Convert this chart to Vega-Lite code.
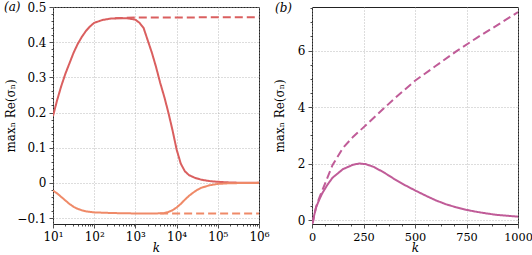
{
  "$schema": "https://vega.github.io/schema/vega-lite/v6.json",
  "autosize": {"type": "pad"},
  "padding": {"left": 3, "top": 0, "right": 0, "bottom": 0},
  "background": "white",
  "bounds": "flush",
  "spacing": 53,
  "resolve": {"scale": {"color": "independent", "strokeDash": "independent"}},
  "config": {
    "view": {"stroke": "#222", "strokeWidth": 1},
    "font": "DejaVu Serif",
    "axis": {
      "domain": false,
      "labelFont": "DejaVu Serif",
      "labelFontSize": 12,
      "labelColor": "#000",
      "titleFont": "DejaVu Serif",
      "titleFontSize": 12,
      "titleFontWeight": "normal",
      "titleColor": "#000",
      "tickColor": "#222",
      "tickWidth": 0.8,
      "gridColor": "#aaaaaa",
      "gridDash": [1, 2],
      "gridWidth": 0.8,
      "labelPadding": 3
    },
    "title": {"font": "DejaVu Serif", "fontSize": 12, "fontStyle": "italic", "fontWeight": "normal", "color": "#000"}
  },
  "hconcat": [
    {
      "width": 206,
      "height": 217,
      "title": {"text": "(a)", "anchor": "start", "frame": "group", "orient": "top", "offset": -15, "baseline": "top", "dx": -49, "dy": -2},
      "data": {"values": [
        {"k": 10, "v": 0.19, "s": "up"},
        {"k": 12.59, "v": 0.235, "s": "up"},
        {"k": 15.85, "v": 0.275, "s": "up"},
        {"k": 19.95, "v": 0.31, "s": "up"},
        {"k": 25.12, "v": 0.34, "s": "up"},
        {"k": 31.62, "v": 0.37, "s": "up"},
        {"k": 39.81, "v": 0.395, "s": "up"},
        {"k": 50.12, "v": 0.415, "s": "up"},
        {"k": 63.1, "v": 0.432, "s": "up"},
        {"k": 79.43, "v": 0.445, "s": "up"},
        {"k": 100, "v": 0.455, "s": "up"},
        {"k": 158.5, "v": 0.463, "s": "up"},
        {"k": 251.2, "v": 0.467, "s": "up"},
        {"k": 398.1, "v": 0.468, "s": "up"},
        {"k": 631, "v": 0.468, "s": "up"},
        {"k": 1000, "v": 0.464, "s": "up"},
        {"k": 1259, "v": 0.455, "s": "up"},
        {"k": 1585, "v": 0.44, "s": "up"},
        {"k": 1995, "v": 0.405, "s": "up"},
        {"k": 2512, "v": 0.37, "s": "up"},
        {"k": 3162, "v": 0.33, "s": "up"},
        {"k": 3981, "v": 0.285, "s": "up"},
        {"k": 5012, "v": 0.245, "s": "up"},
        {"k": 6310, "v": 0.2, "s": "up"},
        {"k": 7943, "v": 0.15, "s": "up"},
        {"k": 10000, "v": 0.095, "s": "up"},
        {"k": 12589, "v": 0.055, "s": "up"},
        {"k": 15849, "v": 0.033, "s": "up"},
        {"k": 19953, "v": 0.022, "s": "up"},
        {"k": 28184, "v": 0.014, "s": "up"},
        {"k": 39811, "v": 0.009, "s": "up"},
        {"k": 63096, "v": 0.005, "s": "up"},
        {"k": 100000, "v": 0.003, "s": "up"},
        {"k": 199526, "v": 0.001, "s": "up"},
        {"k": 398107, "v": 0.0003, "s": "up"},
        {"k": 1000000, "v": 0.0, "s": "up"},
        {"k": 10, "v": -0.022, "s": "low"},
        {"k": 12.59, "v": -0.03, "s": "low"},
        {"k": 15.85, "v": -0.04, "s": "low"},
        {"k": 19.95, "v": -0.05, "s": "low"},
        {"k": 25.12, "v": -0.06, "s": "low"},
        {"k": 31.62, "v": -0.068, "s": "low"},
        {"k": 39.81, "v": -0.074, "s": "low"},
        {"k": 50.12, "v": -0.078, "s": "low"},
        {"k": 63.1, "v": -0.081, "s": "low"},
        {"k": 100, "v": -0.084, "s": "low"},
        {"k": 316.2, "v": -0.086, "s": "low"},
        {"k": 1000, "v": -0.087, "s": "low"},
        {"k": 3162, "v": -0.087, "s": "low"},
        {"k": 5012, "v": -0.086, "s": "low"},
        {"k": 6310, "v": -0.083, "s": "low"},
        {"k": 7943, "v": -0.078, "s": "low"},
        {"k": 10000, "v": -0.07, "s": "low"},
        {"k": 12589, "v": -0.06, "s": "low"},
        {"k": 15849, "v": -0.048, "s": "low"},
        {"k": 19953, "v": -0.037, "s": "low"},
        {"k": 25119, "v": -0.028, "s": "low"},
        {"k": 31623, "v": -0.02, "s": "low"},
        {"k": 39811, "v": -0.014, "s": "low"},
        {"k": 63096, "v": -0.007, "s": "low"},
        {"k": 100000, "v": -0.003, "s": "low"},
        {"k": 199526, "v": -0.001, "s": "low"},
        {"k": 1000000, "v": 0.0, "s": "low"},
        {"k": 316.2, "v": 0.468, "s": "upd"},
        {"k": 1000, "v": 0.47, "s": "upd"},
        {"k": 1000000, "v": 0.471, "s": "upd"},
        {"k": 3981, "v": -0.087, "s": "lowd"},
        {"k": 1000000, "v": -0.087, "s": "lowd"}
      ]},
      "mark": {"type": "line", "strokeWidth": 2, "clip": true},
      "encoding": {
        "x": {
          "field": "k", "type": "quantitative",
          "scale": {"type": "log", "domain": [10, 1000000], "nice": false},
          "axis": {
            "title": "k", "titleFontStyle": "italic", "titlePadding": 0,
            "values": [10,20,30,40,50,60,70,80,90,100,200,300,400,500,600,700,800,900,1000,2000,3000,4000,5000,6000,7000,8000,9000,10000,20000,30000,40000,50000,60000,70000,80000,90000,100000,200000,300000,400000,500000,600000,700000,800000,900000,1000000],
            "labelExpr": "datum.value == 10 ? '10¹' : datum.value == 100 ? '10²' : datum.value == 1000 ? '10³' : datum.value == 10000 ? '10⁴' : datum.value == 100000 ? '10⁵' : datum.value == 1000000 ? '10⁶' : ''",
            "labelOverlap": false,
            "labelBound": false,
            "labelFlush": false,
            "tickSize": {"condition": {"test": "abs(log(datum.value)/LN10 - round(log(datum.value)/LN10)) < 0.000001", "value": 4}, "value": 2},
            "gridOpacity": {"condition": {"test": "abs(log(datum.value)/LN10 - round(log(datum.value)/LN10)) < 0.000001", "value": 1}, "value": 0}
          }
        },
        "y": {
          "field": "v", "type": "quantitative",
          "scale": {"domain": [-0.117, 0.5], "nice": false, "zero": false},
          "axis": {
            "title": "maxₙ Re(σₙ)", "titleX": -43, "titleY": 108.5, "titleAngle": -90, "titleAlign": "center", "titleBaseline": "middle",
            "values": [-0.1,-0.08,-0.06,-0.04,-0.02,0,0.02,0.04,0.06,0.08,0.1,0.12,0.14,0.16,0.18,0.2,0.22,0.24,0.26,0.28,0.3,0.32,0.34,0.36,0.38,0.4,0.42,0.44,0.46,0.48,0.5],
            "labelExpr": "abs(datum.value*10 - round(datum.value*10)) < 0.000001 ? (abs(datum.value) < 0.000001 ? '0' : format(datum.value, '.1f')) : ''",
            "labelOverlap": false,
            "labelFlush": false,
            "tickSize": {"condition": {"test": "abs(datum.value*10 - round(datum.value*10)) < 0.000001", "value": 4}, "value": 2},
            "gridOpacity": {"condition": {"test": "abs(datum.value*10 - round(datum.value*10)) < 0.000001", "value": 1}, "value": 0}
          }
        },
        "color": {"field": "s", "type": "nominal", "legend": null,
          "scale": {"domain": ["up", "low", "upd", "lowd"], "range": ["#da5f5f", "#ef8a68", "#da5f5f", "#ef8a68"]}},
        "strokeDash": {"field": "s", "type": "nominal", "legend": null,
          "scale": {"domain": ["up", "low", "upd", "lowd"], "range": [[1, 0], [1, 0], [8, 4], [8, 4]]}}
      }
    },
    {
      "width": 206,
      "height": 217,
      "title": {"text": "(b)", "anchor": "start", "frame": "group", "orient": "top", "offset": -15, "baseline": "top", "dx": -37, "dy": -2},
      "data": {"values": [
        {"k": 0, "v": -0.14, "s": "sol"},
        {"k": 5, "v": -0.05, "s": "sol"},
        {"k": 10, "v": 0.15, "s": "sol"},
        {"k": 20, "v": 0.45, "s": "sol"},
        {"k": 35, "v": 0.72, "s": "sol"},
        {"k": 50, "v": 0.95, "s": "sol"},
        {"k": 75, "v": 1.25, "s": "sol"},
        {"k": 100, "v": 1.5, "s": "sol"},
        {"k": 150, "v": 1.8, "s": "sol"},
        {"k": 200, "v": 1.96, "s": "sol"},
        {"k": 230, "v": 2.0, "s": "sol"},
        {"k": 260, "v": 1.98, "s": "sol"},
        {"k": 300, "v": 1.88, "s": "sol"},
        {"k": 350, "v": 1.68, "s": "sol"},
        {"k": 400, "v": 1.45, "s": "sol"},
        {"k": 450, "v": 1.24, "s": "sol"},
        {"k": 500, "v": 1.05, "s": "sol"},
        {"k": 550, "v": 0.87, "s": "sol"},
        {"k": 600, "v": 0.7, "s": "sol"},
        {"k": 650, "v": 0.56, "s": "sol"},
        {"k": 700, "v": 0.45, "s": "sol"},
        {"k": 750, "v": 0.36, "s": "sol"},
        {"k": 800, "v": 0.29, "s": "sol"},
        {"k": 850, "v": 0.23, "s": "sol"},
        {"k": 900, "v": 0.18, "s": "sol"},
        {"k": 950, "v": 0.15, "s": "sol"},
        {"k": 1000, "v": 0.12, "s": "sol"},
        {"k": 0, "v": -0.14, "s": "dash"},
        {"k": 5, "v": -0.05, "s": "dash"},
        {"k": 10, "v": 0.15, "s": "dash"},
        {"k": 20, "v": 0.47, "s": "dash"},
        {"k": 35, "v": 0.78, "s": "dash"},
        {"k": 50, "v": 1.05, "s": "dash"},
        {"k": 75, "v": 1.5, "s": "dash"},
        {"k": 100, "v": 1.95, "s": "dash"},
        {"k": 150, "v": 2.55, "s": "dash"},
        {"k": 200, "v": 2.95, "s": "dash"},
        {"k": 250, "v": 3.28, "s": "dash"},
        {"k": 300, "v": 3.62, "s": "dash"},
        {"k": 400, "v": 4.3, "s": "dash"},
        {"k": 500, "v": 4.93, "s": "dash"},
        {"k": 600, "v": 5.45, "s": "dash"},
        {"k": 700, "v": 5.97, "s": "dash"},
        {"k": 800, "v": 6.45, "s": "dash"},
        {"k": 900, "v": 6.9, "s": "dash"},
        {"k": 1000, "v": 7.36, "s": "dash"}
      ]},
      "mark": {"type": "line", "strokeWidth": 2, "clip": true},
      "encoding": {
        "x": {
          "field": "k", "type": "quantitative",
          "scale": {"domain": [0, 1000], "nice": false},
          "axis": {
            "title": "k", "titleFontStyle": "italic", "titlePadding": 0,
            "labelFontSize": 11.3,
            "values": [0,62.5,125,187.5,250,312.5,375,437.5,500,562.5,625,687.5,750,812.5,875,937.5,1000],
            "labelExpr": "datum.value % 250 == 0 ? format(datum.value, 'd') : ''",
            "labelOverlap": false,
            "labelFlush": false,
            "labelBound": false,
            "tickSize": {"condition": {"test": "datum.value % 250 == 0", "value": 4}, "value": 2},
            "gridOpacity": {"condition": {"test": "datum.value % 250 == 0", "value": 1}, "value": 0}
          }
        },
        "y": {
          "field": "v", "type": "quantitative",
          "scale": {"domain": [-0.14, 7.54], "nice": false, "zero": false},
          "axis": {
            "title": "maxₙ Re(σₙ)", "titleX": -33, "titleY": 108.5, "titleAngle": -90, "titleAlign": "center", "titleBaseline": "middle",
            "values": [0,0.5,1,1.5,2,2.5,3,3.5,4,4.5,5,5.5,6,6.5,7,7.5],
            "labelExpr": "datum.value % 2 == 0 ? format(datum.value, 'd') : ''",
            "labelOverlap": false,
            "labelFlush": false,
            "tickSize": {"condition": {"test": "datum.value % 2 == 0", "value": 4}, "value": 2},
            "gridOpacity": {"condition": {"test": "datum.value % 2 == 0", "value": 1}, "value": 0}
          }
        },
        "color": {"field": "s", "type": "nominal", "legend": null,
          "scale": {"domain": ["sol", "dash"], "range": ["#c05c98", "#c05c98"]}},
        "strokeDash": {"field": "s", "type": "nominal", "legend": null,
          "scale": {"domain": ["sol", "dash"], "range": [[1, 0], [8, 4]]}}
      }
    }
  ]
}
